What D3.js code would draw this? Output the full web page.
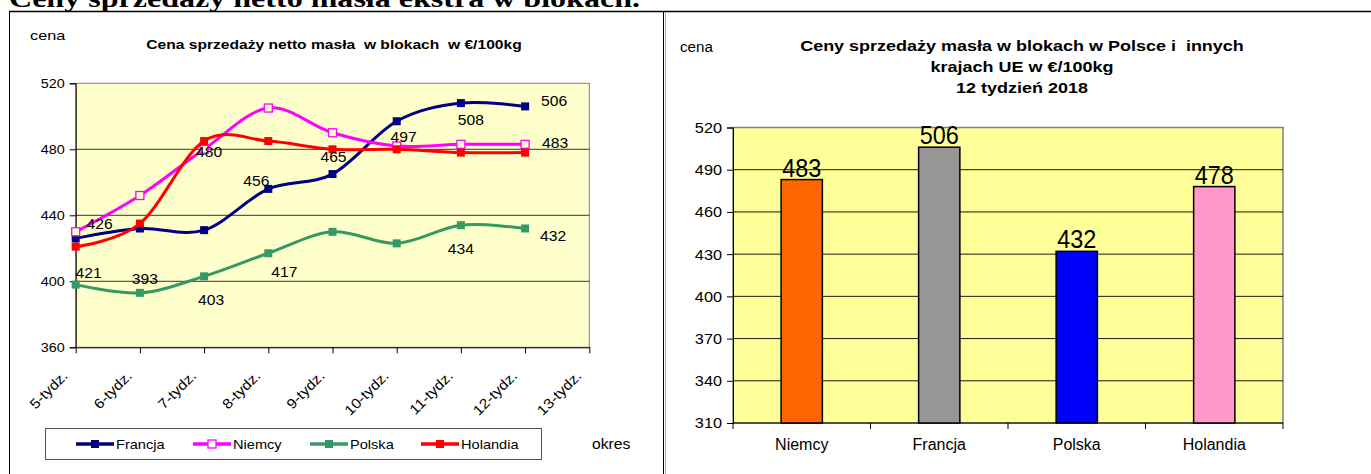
<!DOCTYPE html>
<html lang="pl">
<head>
<meta charset="UTF-8">
<title>Ceny sprzedaży masła w blokach</title>
<script src="https://cdn.jsdelivr.net/npm/d3@7/dist/d3.min.js"></script>
<style>
  body { margin: 0; background: #fff; }
  svg text { font-family: Arial, "Liberation Sans", sans-serif; }
</style>
</head>
<body>
<div id="viz"></div>
<script>
// --- data: weekly prices (left chart)
var weeks = ["5-tydz.", "6-tydz.", "7-tydz.", "8-tydz.", "9-tydz.", "10-tydz.", "11-tydz.", "12-tydz.", "13-tydz."];
var francja = [426, 432, 431, 456, 465, 497, 508, 506];
var niemcy = [430, 452, 480, 505, 490, 482, 483, 483];
var polska = [398, 393, 403, 417, 430, 423, 434, 432];
var holandia = [421, 435, 485, 485, 480, 480, 478, 478];
var leftTicks = [360, 400, 440, 480, 520];

// --- data: week 12 comparison (right chart)
var countries = ["Niemcy", "Francja", "Polska", "Holandia"];
var week12 = [483, 506, 432, 478];
var rightTicks = [310, 340, 370, 400, 430, 460, 490, 520];

var width = 1371, height = 474;

// the scanned original is a bit wider than plain Arial, so widen glyphs
function stretch(sel, k) {
  sel.each(function() {
    var w = this.getComputedTextLength();
    d3.select(this).attr("textLength", w * k).attr("lengthAdjust", "spacingAndGlyphs");
  });
}

var svg = d3.select("#viz").append("svg")
  .attr("width", width)
  .attr("height", height);

// page heading, cut off at the top
svg.append("text")
  .attr("x", 9)
  .attr("y", 7)
  .attr("textLength", 631)
  .attr("lengthAdjust", "spacingAndGlyphs")
  .style("font-family", "'Liberation Serif', 'Times New Roman', serif")
  .style("font-weight", "bold")
  .style("font-size", "26px")
  .text("Ceny sprzedaży netto masła ekstra w blokach.");

// table borders
svg.append("line").attr("x1", 9).attr("x2", width).attr("y1", 11.5).attr("y2", 11.5)
  .attr("stroke", "#000").attr("stroke-width", 1.5);
svg.append("line").attr("x1", 9.5).attr("x2", 9.5).attr("y1", 11).attr("y2", height)
  .attr("stroke", "#000");
svg.append("line").attr("x1", 663.5).attr("x2", 663.5).attr("y1", 11).attr("y2", height)
  .attr("stroke", "#000");
svg.append("line").attr("x1", 665.5).attr("x2", 665.5).attr("y1", 12).attr("y2", height)
  .attr("stroke", "#b0b0b0");

/* ---------------- left chart ---------------- */
var left = svg.append("g");

var x = d3.scalePoint().domain(weeks).range([75.7, 589.3]);
var y = d3.scaleLinear().domain([360, 520]).range([347.3, 83.3]);

left.append("text").attr("x", 30).attr("y", 40).style("font-size", "13px").text("cena")
  .call(stretch, 1.25);
left.append("text")
  .attr("x", 334).attr("y", 49)
  .attr("text-anchor", "middle")
  .style("font-size", "13px")
  .style("font-weight", "bold")
  .style("white-space", "pre")
  .text("Cena sprzedaży netto masła  w blokach  w €/100kg")
  .call(stretch, 1.2);

left.append("rect")
  .attr("x", x.range()[0]).attr("y", y(520))
  .attr("width", x.range()[1] - x.range()[0])
  .attr("height", y(360) - y(520))
  .attr("fill", "#ffffcc")
  .attr("stroke", "#808080");

left.selectAll(".grid").data(leftTicks.slice(1, -1)).enter().append("line")
  .attr("x1", x.range()[0]).attr("x2", x.range()[1])
  .attr("y1", function(d) { return y(d); }).attr("y2", function(d) { return y(d); })
  .attr("stroke", "#000").attr("stroke-width", 0.8);

var yAxisL = left.append("g")
  .attr("transform", "translate(" + x.range()[0] + ",0)")
  .call(d3.axisLeft(y).tickValues(leftTicks).tickSize(6).tickPadding(5));
yAxisL.selectAll("line, path").attr("stroke", "#000");
yAxisL.selectAll("text").style("font-size", "12.5px").attr("fill", "#000")
  .call(stretch, 1.15);

var xAxisL = left.append("g")
  .attr("transform", "translate(0," + y(360) + ")")
  .call(d3.axisBottom(x).tickSize(6).tickSizeOuter(0));
xAxisL.selectAll("line, path").attr("stroke", "#000");
xAxisL.selectAll("text")
  .style("font-size", "14px")
  .attr("fill", "#000")
  .attr("text-anchor", "end")
  .attr("transform", "translate(-11,26) rotate(-45)")
  .attr("dy", "0.35em")
  .attr("y", 0)
  .attr("x", 0)
  .call(stretch, 1.12);

var series = [
  { name: "Francja", values: francja, color: "#000080", hollow: false },
  { name: "Niemcy", values: niemcy, color: "#ff00ff", hollow: true },
  { name: "Polska", values: polska, color: "#339966", hollow: false },
  { name: "Holandia", values: holandia, color: "#ff0000", hollow: false }
];

var line = d3.line()
  .x(function(d, i) { return x(weeks[i]); })
  .y(function(d) { return y(d); })
  .curve(d3.curveCardinal.tension(0));

series.forEach(function(s) {
  left.append("path")
    .attr("d", line(s.values))
    .attr("fill", "none")
    .attr("stroke", s.color)
    .attr("stroke-width", 3);
  left.selectAll(null).data(s.values).enter().append("rect")
    .attr("x", function(d, i) { return x(weeks[i]) - 4; })
    .attr("y", function(d) { return y(d) - 4; })
    .attr("width", 8).attr("height", 8)
    .attr("fill", s.hollow ? "#ffffcc" : s.color)
    .attr("stroke", s.color)
    .attr("stroke-width", s.hollow ? 1.3 : 0);
});

// data labels as placed in the original (offset from their point)
var labelSpots = [
  ["Francja", 0, 24, -14], ["Holandia", 0, 13, 26], ["Polska", 1, 5, -14],
  ["Polska", 2, 7, 24], ["Niemcy", 2, 5, 3], ["Francja", 3, -12, -8],
  ["Polska", 3, 16, 19], ["Francja", 4, 1, -17], ["Francja", 5, 7, 16],
  ["Francja", 6, 10, 17], ["Francja", 7, 29, -5], ["Niemcy", 7, 30, -1],
  ["Polska", 7, 28, 7], ["Polska", 6, 0, 24]
];
labelSpots.forEach(function(l) {
  var s = series.filter(function(d) { return d.name === l[0]; })[0];
  var v = s.values[l[1]];
  left.append("text")
    .attr("x", x(weeks[l[1]]) + l[2])
    .attr("y", y(v) + l[3])
    .attr("dy", "0.35em")
    .attr("text-anchor", "middle")
    .style("font-size", "14.5px")
    .text(v)
    .call(stretch, 1.08);
});

// legend
var legend = left.append("g");
legend.append("rect")
  .attr("x", 45.5).attr("y", 428.5).attr("width", 496).attr("height", 31)
  .attr("fill", "#fff").attr("stroke", "#555");
var legendX = [76, 193, 310, 421];
series.forEach(function(s, i) {
  var g = legend.append("g").attr("transform", "translate(" + legendX[i] + ",444)");
  g.append("line").attr("x1", 0).attr("x2", 38).attr("stroke", s.color).attr("stroke-width", 3.5);
  g.append("rect").attr("x", 15).attr("y", -4).attr("width", 8).attr("height", 8)
    .attr("fill", s.hollow ? "#fff" : s.color)
    .attr("stroke", s.color).attr("stroke-width", s.hollow ? 1.3 : 0);
  g.append("text").attr("x", 40).attr("dy", "0.35em").style("font-size", "13.5px").text(s.name)
    .call(stretch, 1.08);
});
left.append("text").attr("x", 592).attr("y", 444).attr("dy", "0.35em")
  .style("font-size", "14px").text("okres")
  .call(stretch, 1.12);

/* ---------------- right chart ---------------- */
var right = svg.append("g");

var xb = d3.scaleBand().domain(countries).range([733, 1283]);
var yb = d3.scaleLinear().domain([310, 520]).range([423, 127.5]);
var barColors = ["#ff6600", "#969696", "#0000ff", "#ff99cc"];

right.append("text").attr("x", 680).attr("y", 52).style("font-size", "14px").text("cena")
  .call(stretch, 1.08);
var titleLines = ["Ceny sprzedaży masła w blokach w Polsce i  innych", "krajach UE w €/100kg", "12 tydzień 2018"];
right.selectAll(".title").data(titleLines).enter().append("text")
  .attr("x", 1022)
  .attr("y", function(d, i) { return 51 + i * 21; })
  .attr("text-anchor", "middle")
  .style("font-size", "15.5px")
  .style("font-weight", "bold")
  .style("white-space", "pre")
  .text(function(d) { return d; })
  .call(stretch, 1.16);

right.append("rect")
  .attr("x", 733).attr("y", yb(520))
  .attr("width", 550).attr("height", yb(310) - yb(520))
  .attr("fill", "#ffff99")
  .attr("stroke", "#808080").attr("stroke-width", 1.5);

right.selectAll(".grid").data(rightTicks.slice(1, -1)).enter().append("line")
  .attr("x1", 733).attr("x2", 1283)
  .attr("y1", function(d) { return yb(d); }).attr("y2", function(d) { return yb(d); })
  .attr("stroke", "#000").attr("stroke-width", 0.9);

var yAxisR = right.append("g")
  .attr("transform", "translate(733,0)")
  .call(d3.axisLeft(yb).tickValues(rightTicks).tickSize(6).tickPadding(5));
yAxisR.selectAll("line, path").attr("stroke", "#000");
yAxisR.selectAll("text").style("font-size", "15.5px").attr("fill", "#000")
  .call(stretch, 1.05);

// category ticks sit between bars
var xAxisR = right.append("g").attr("transform", "translate(0," + yb(310) + ")");
xAxisR.append("line").attr("x1", 733).attr("x2", 1283).attr("stroke", "#000");
xAxisR.selectAll(".tk").data(countries.concat(["end"])).enter().append("line")
  .attr("x1", function(d, i) { return 733 + i * xb.bandwidth(); })
  .attr("x2", function(d, i) { return 733 + i * xb.bandwidth(); })
  .attr("y1", 0).attr("y2", 6).attr("stroke", "#000");
xAxisR.selectAll("text").data(countries).enter().append("text")
  .attr("x", function(d) { return xb(d) + xb.bandwidth() / 2; })
  .attr("y", 21)
  .attr("dy", "0.35em")
  .attr("text-anchor", "middle")
  .style("font-size", "16px")
  .text(function(d) { return d; });

var barW = xb.bandwidth() * 0.3;
right.selectAll(".bar").data(week12).enter().append("rect")
  .attr("x", function(d, i) { return xb(countries[i]) + xb.bandwidth() / 2 - barW / 2; })
  .attr("y", function(d) { return yb(d); })
  .attr("width", barW)
  .attr("height", function(d) { return yb(310) - yb(d); })
  .attr("fill", function(d, i) { return barColors[i]; })
  .attr("stroke", "#000").attr("stroke-width", 1.5);

right.selectAll(".val").data(week12).enter().append("text")
  .attr("x", function(d, i) { return xb(countries[i]) + xb.bandwidth() / 2; })
  .attr("y", function(d) { return yb(d) - 3; })
  .attr("text-anchor", "middle")
  .style("font-size", "26px")
  .text(function(d) { return d; })
  .call(stretch, 0.9);
</script>
</body>
</html>
